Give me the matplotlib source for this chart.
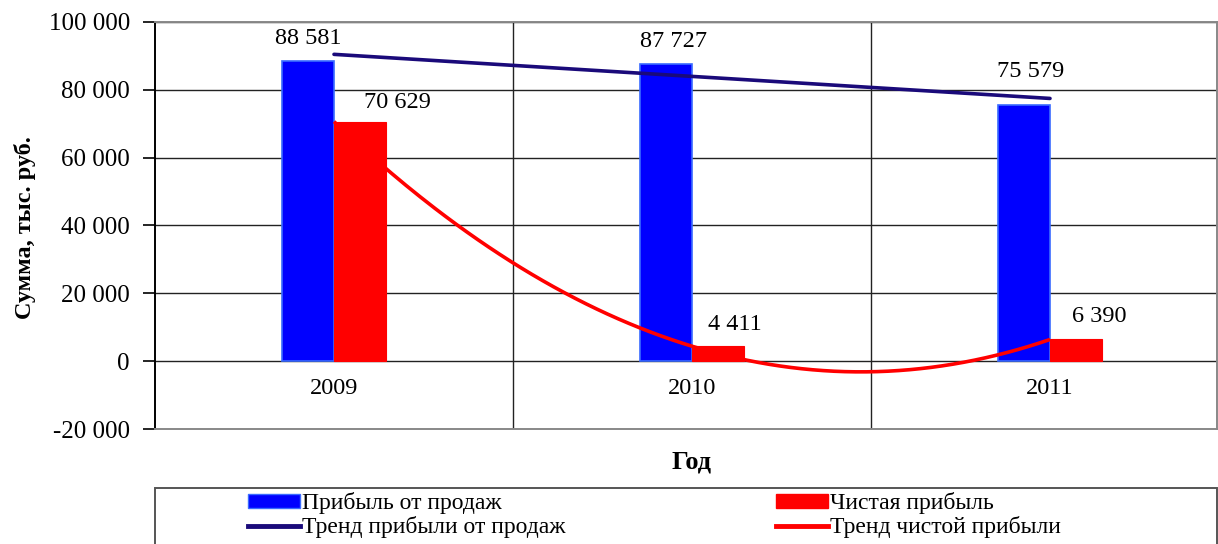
import matplotlib
matplotlib.use("Agg")
import matplotlib.pyplot as plt
import numpy as np
from matplotlib.patches import Patch, Rectangle
from matplotlib.lines import Line2D

years = ["2009", "2010", "2011"]
sales_profit = [88581, 87727, 75579]
net_profit = [70629, 4411, 6390]
yticks = [-20000, 0, 20000, 40000, 60000, 80000, 100000]

plt.rcParams['font.family'] = ['Liberation Serif', 'DejaVu Serif']

W, H = 1218, 544
fig = plt.figure(figsize=(W / 100, H / 100), dpi=100)
ax = fig.add_axes([155 / W, 1 - 429 / H, (1217 - 155) / W, (429 - 22) / H])

x = np.arange(len(years))
bw = 0.145
blue = "#0000FF"
red = "#FF0000"
ax.bar(x - bw / 2, sales_profit, bw, color=blue, edgecolor="#3A6BFF", linewidth=1.2, zorder=3)
ax.bar(x + bw / 2, net_profit, bw, color=red, edgecolor=red, linewidth=0.8, zorder=5)

# trend lines: linear for sales profit, polynomial (2) for net profit
c1 = np.polyfit(x, sales_profit, 1)
c2 = np.polyfit(x, net_profit, 2)
xs = np.linspace(0, 2, 200)
ax.plot(xs, np.polyval(c1, xs), color="#1A0A7A", lw=2.6, zorder=4, solid_capstyle="round")
ax.plot(xs, np.polyval(c2, xs), color=red, lw=2.6, zorder=4, solid_capstyle="butt")

def fmt(v):
    s = f"{abs(int(v)):,}".replace(",", " ")
    return ("-" if v < 0 else "") + s

FS = 17.5
# data labels (pixel offsets)
blue_off = [(0, 22), (8, 22), (7, 33)]
red_off = [(37, 19), (17, 22), (23, 23)]
for i in range(len(years)):
    ax.annotate(fmt(sales_profit[i]), (x[i] - bw / 2, sales_profit[i]), xytext=blue_off[i],
                textcoords="offset pixels", ha="center", va="center", fontsize=FS, zorder=6)
    ax.annotate(fmt(net_profit[i]), (x[i] + bw / 2, net_profit[i]), xytext=red_off[i],
                textcoords="offset pixels", ha="center", va="center", fontsize=FS, zorder=6)
    ax.annotate(years[i], (x[i], 0), xytext=(0, -27), textcoords="offset pixels",
                ha="center", va="center", fontsize=FS)

ax.set_xlim(-0.5, -0.5 + (1217 - 155) / 358)
ax.set_ylim(-20000, 100000)
ax.set_yticks(yticks)
ax.set_yticklabels([fmt(v) for v in yticks], fontsize=18)
ax.set_xticks([])
ax.tick_params(axis="y", direction="out", length=9, width=1.2, color="black", pad=9)

for yv in yticks[1:]:
    ax.axhline(yv, color="#222222", lw=1, zorder=1)
for xv in [0.5, 1.5]:
    ax.axvline(xv, color="#222222", lw=1, zorder=1)

ax.spines["left"].set_color("black")
ax.spines["left"].set_linewidth(1.4)
for s in ["top", "right", "bottom"]:
    ax.spines[s].set_color("#888888")
    ax.spines[s].set_linewidth(1.4)

fig.text(25 / W, 1 - 228 / H, "Сумма, тыс. руб.", rotation=90, ha="center", va="center",
         fontsize=17.5, fontweight="bold")
fig.text(692 / W, 1 - 462 / H, "Год", ha="center", va="center", fontsize=19, fontweight="bold")

# legend frame
fig.patches.append(Rectangle((155 / W, -0.05), (1217 - 155) / W, (1 - 488 / H) + 0.05,
                             transform=fig.transFigure, fill=False, edgecolor="#555555", lw=1.4))
handles = [Patch(facecolor=blue, edgecolor="#3A6BFF"),
           Line2D([], [], color="#1A0A7A", lw=3.5),
           Patch(facecolor=red, edgecolor=red),
           Line2D([], [], color=red, lw=3.5)]
labels = ["Прибыль от продаж", "Тренд прибыли от продаж",
          "Чистая прибыль", "Тренд чистой прибыли"]
fig.legend(handles, labels, ncol=2, loc="upper left", bbox_to_anchor=(248 / W, 1 - 492 / H),
           frameon=False, fontsize=17, handlelength=2.2, handleheight=0.55, handletextpad=0.1,
           columnspacing=8.9, labelspacing=0.1, borderaxespad=0, borderpad=0)

fig.savefig("out.png", dpi=100)
